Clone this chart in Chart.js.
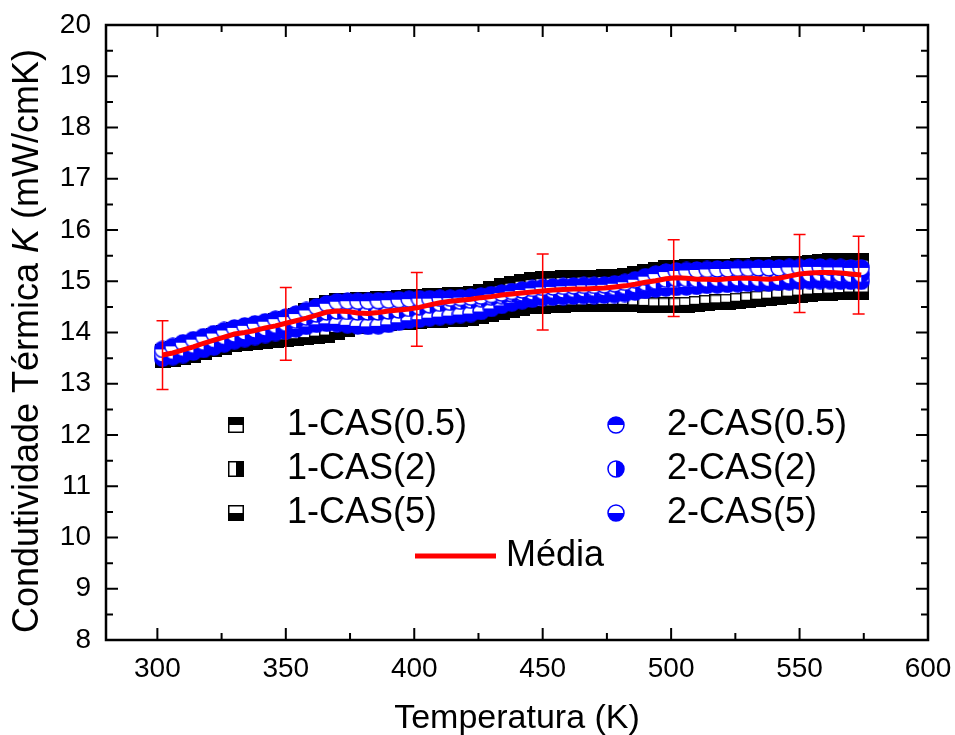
<!DOCTYPE html>
<html>
<head>
<meta charset="utf-8">
<script src="https://cdn.jsdelivr.net/npm/chart.js@4.4.1/dist/chart.umd.min.js"></script>
<style>
  body { margin: 0; background: #fff; }
  #wrap { width: 955px; height: 735px; }
</style>
</head>
<body>
<div id="wrap"><canvas id="kChart" width="955" height="735"></canvas></div>
<script>
// Temperature (K) for every sample
const temps = [
  302, 306, 310, 314, 318, 322, 326, 330, 334, 338,
  342, 346, 350, 354, 358, 362, 366, 370, 374, 378,
  382, 386, 390, 394, 398, 402, 406, 410, 414, 418,
  422, 426, 430, 434, 438, 442, 446, 450, 454, 458,
  462, 466, 470, 474, 478, 482, 486, 490, 494, 498,
  502, 506, 510, 514, 518, 522, 526, 530, 534, 538,
  542, 546, 550, 554, 558, 562, 566, 570, 574
];

// thermal conductivity K (mW/cmK), one list per sample
const cas1_05 = [
  13.62, 13.68, 13.74, 13.80, 13.86, 13.93, 13.99, 14.05, 14.09, 14.13,
  14.17, 14.22, 14.26, 14.33, 14.42, 14.51, 14.58, 14.61, 14.62, 14.63,
  14.64, 14.65, 14.66, 14.67, 14.69, 14.70, 14.71, 14.72, 14.73, 14.74,
  14.76, 14.80, 14.85, 14.90, 14.95, 14.99, 15.02, 15.04, 15.05, 15.06,
  15.06, 15.07, 15.07, 15.08, 15.08, 15.10, 15.14, 15.18, 15.22, 15.25,
  15.26, 15.27, 15.27, 15.28, 15.28, 15.28, 15.29, 15.30, 15.31, 15.32,
  15.33, 15.34, 15.34, 15.36, 15.38, 15.39, 15.40, 15.40, 15.40
];
const cas1_2 = [
  13.55, 13.61, 13.67, 13.73, 13.79, 13.84, 13.90, 13.95, 13.98, 14.01,
  14.04, 14.07, 14.10, 14.16, 14.23, 14.31, 14.38, 14.41, 14.41, 14.40,
  14.40, 14.40, 14.41, 14.43, 14.45, 14.47, 14.51, 14.55, 14.58, 14.60,
  14.61, 14.64, 14.68, 14.71, 14.74, 14.77, 14.79, 14.80, 14.82, 14.83,
  14.84, 14.85, 14.86, 14.87, 14.88, 14.90, 14.93, 14.96, 14.99, 15.01,
  15.02, 15.02, 15.02, 15.02, 15.02, 15.02, 15.03, 15.03, 15.03, 15.03,
  15.05, 15.08, 15.10, 15.11, 15.11, 15.11, 15.11, 15.10, 15.10
];
const cas1_5 = [
  13.46, 13.49, 13.53, 13.57, 13.62, 13.67, 13.72, 13.77, 13.80, 13.82,
  13.84, 13.86, 13.87, 13.89, 13.91, 13.94, 13.96, 14.01, 14.07, 14.12,
  14.15, 14.17, 14.19, 14.20, 14.21, 14.22, 14.24, 14.25, 14.26, 14.27,
  14.29, 14.32, 14.36, 14.40, 14.44, 14.48, 14.51, 14.52, 14.53, 14.54,
  14.55, 14.55, 14.56, 14.56, 14.56, 14.56, 14.55, 14.54, 14.53, 14.53,
  14.53, 14.54, 14.56, 14.58, 14.59, 14.60, 14.62, 14.64, 14.66, 14.68,
  14.70, 14.72, 14.74, 14.76, 14.77, 14.78, 14.79, 14.80, 14.80
];
const cas2_05 = [
  13.67, 13.73, 13.80, 13.86, 13.92, 13.98, 14.04, 14.09, 14.13, 14.17,
  14.21, 14.26, 14.30, 14.36, 14.43, 14.50, 14.56, 14.60, 14.61, 14.61,
  14.61, 14.62, 14.63, 14.64, 14.65, 14.66, 14.66, 14.67, 14.67, 14.68,
  14.69, 14.71, 14.74, 14.77, 14.80, 14.83, 14.86, 14.88, 14.89, 14.90,
  14.91, 14.92, 14.92, 14.93, 14.95, 14.98, 15.03, 15.09, 15.14, 15.18,
  15.20, 15.21, 15.22, 15.23, 15.24, 15.24, 15.25, 15.25, 15.26, 15.26,
  15.26, 15.27, 15.27, 15.28, 15.28, 15.27, 15.27, 15.26, 15.26
];
const cas2_2 = [
  13.58, 13.63, 13.69, 13.75, 13.81, 13.86, 13.92, 13.97, 14.01, 14.05,
  14.09, 14.14, 14.18, 14.24, 14.30, 14.36, 14.40, 14.42, 14.41, 14.40,
  14.40, 14.40, 14.42, 14.44, 14.47, 14.50, 14.54, 14.57, 14.59, 14.61,
  14.63, 14.66, 14.69, 14.72, 14.75, 14.77, 14.79, 14.80, 14.82, 14.83,
  14.84, 14.85, 14.86, 14.87, 14.88, 14.90, 14.93, 14.97, 15.00, 15.04,
  15.05, 15.05, 15.04, 15.04, 15.05, 15.05, 15.06, 15.06, 15.05, 15.05,
  15.07, 15.10, 15.12, 15.14, 15.15, 15.15, 15.14, 15.13, 15.13
];
const cas2_5 = [
  13.50, 13.53, 13.57, 13.62, 13.67, 13.72, 13.78, 13.84, 13.88, 13.92,
  13.96, 14.00, 14.03, 14.07, 14.12, 14.16, 14.18, 14.17, 14.15, 14.13,
  14.12, 14.13, 14.16, 14.20, 14.24, 14.26, 14.29, 14.31, 14.33, 14.35,
  14.37, 14.41, 14.47, 14.53, 14.58, 14.62, 14.65, 14.68, 14.69, 14.70,
  14.71, 14.72, 14.72, 14.73, 14.74, 14.76, 14.79, 14.82, 14.85, 14.87,
  14.88, 14.89, 14.90, 14.92, 14.93, 14.94, 14.95, 14.96, 14.96, 14.97,
  14.98, 14.99, 15.00, 15.01, 15.01, 15.01, 15.00, 15.00, 15.00
];
const meanK = [
  13.56, 13.60, 13.66, 13.72, 13.79, 13.85, 13.91, 13.97, 14.00, 14.04,
  14.09, 14.13, 14.18, 14.23, 14.28, 14.34, 14.40, 14.42, 14.41, 14.38,
  14.37, 14.39, 14.42, 14.44, 14.46, 14.49, 14.54, 14.58, 14.61, 14.63,
  14.65, 14.68, 14.70, 14.73, 14.75, 14.77, 14.79, 14.81, 14.83, 14.84,
  14.85, 14.85, 14.86, 14.87, 14.89, 14.91, 14.94, 14.98, 15.01, 15.05,
  15.07, 15.06, 15.04, 15.04, 15.03, 15.05, 15.06, 15.06, 15.05, 15.04,
  15.06, 15.10, 15.14, 15.16, 15.17, 15.17, 15.16, 15.14, 15.12
];

// error bars on the mean
const errT = [302, 350, 401, 450, 501, 550, 573];
const errMean = [13.56, 14.17, 14.45, 14.79, 15.06, 15.15, 15.12];
const errSize = [0.67, 0.71, 0.72, 0.74, 0.75, 0.76, 0.76];

const xTicks = [300, 350, 400, 450, 500, 550, 600];
const yTicks = [8, 9, 10, 11, 12, 13, 14, 15, 16, 17, 18, 19, 20];

const FONT = '"Liberation Sans", Arial, sans-serif';

// half filled markers
function squareMarker(half) {
  const n = 16;
  const c = document.createElement('canvas');
  c.width = n; c.height = n;
  const g = c.getContext('2d');
  g.fillStyle = '#fff';
  g.fillRect(0, 0, n, n);
  g.fillStyle = '#000';
  if (half === 'top') g.fillRect(0, 0, n, n / 2);
  if (half === 'right') g.fillRect(n / 2, 0, n / 2, n);
  if (half === 'bottom') g.fillRect(0, n / 2, n, n / 2);
  g.strokeStyle = '#000';
  g.lineWidth = 1.5;
  g.strokeRect(0.75, 0.75, n - 1.5, n - 1.5);
  return c;
}
function circleMarker(half) {
  const n = 18, m = n / 2, r = m - 1;
  const c = document.createElement('canvas');
  c.width = n; c.height = n;
  const g = c.getContext('2d');
  g.beginPath(); g.arc(m, m, r, 0, Math.PI * 2);
  g.fillStyle = '#fff'; g.fill();
  g.beginPath();
  if (half === 'top') g.arc(m, m, r, Math.PI, 0);
  if (half === 'right') g.arc(m, m, r, -Math.PI / 2, Math.PI / 2);
  if (half === 'bottom') g.arc(m, m, r, 0, Math.PI);
  g.closePath();
  g.fillStyle = '#0000ff'; g.fill();
  g.beginPath(); g.arc(m, m, r, 0, Math.PI * 2);
  g.strokeStyle = '#0000ff'; g.lineWidth = 1.5; g.stroke();
  return c;
}

const series = [
  { label: '1-CAS(0.5)', vals: cas1_05, marker: squareMarker('top'), order: 3 },
  { label: '1-CAS(2)', vals: cas1_2, marker: squareMarker('right'), order: 3 },
  { label: '1-CAS(5)', vals: cas1_5, marker: squareMarker('bottom'), order: 3 },
  { label: '2-CAS(0.5)', vals: cas2_05, marker: circleMarker('top'), order: 2 },
  { label: '2-CAS(2)', vals: cas2_2, marker: circleMarker('right'), order: 2 },
  { label: '2-CAS(5)', vals: cas2_5, marker: circleMarker('bottom'), order: 2 }
];

function pts(vals) {
  return temps.map((t, i) => ({ x: t, y: vals[i] }));
}

const datasets = series.map(s => ({
  label: s.label,
  data: pts(s.vals),
  showLine: false,
  pointStyle: s.marker,
  pointRadius: 9,
  order: s.order
}));
datasets.push({
  label: 'Média',
  data: pts(meanK),
  showLine: true,
  borderColor: '#ff0000',
  borderWidth: 5,
  pointRadius: 0,
  tension: 0,
  order: 1
});

// error bars drawn over the mean line
const errorBars = {
  id: 'errorBars',
  afterDatasetsDraw(chart) {
    const { ctx, scales: { x, y } } = chart;
    ctx.save();
    ctx.strokeStyle = '#ff0000';
    ctx.lineWidth = 1.5;
    ctx.beginPath();
    errT.forEach((t, i) => {
      const px = x.getPixelForValue(t);
      const top = y.getPixelForValue(errMean[i] + errSize[i]);
      const bot = y.getPixelForValue(errMean[i] - errSize[i]);
      ctx.moveTo(px, top); ctx.lineTo(px, bot);
      ctx.moveTo(px - 6, top); ctx.lineTo(px + 6, top);
      ctx.moveTo(px - 6, bot); ctx.lineTo(px + 6, bot);
    });
    ctx.stroke();
    ctx.restore();
  }
};

// box with inward ticks on all four sides, legend and axis titles
const frame = {
  id: 'frame',
  afterDraw(chart) {
    const { ctx, chartArea: a, scales: { x, y } } = chart;
    ctx.save();
    ctx.strokeStyle = '#000';
    ctx.lineWidth = 2;
    ctx.beginPath();
    const xMinor = xTicks.slice(0, -1).map((v, i) => (v + xTicks[i + 1]) / 2);
    const yMinor = yTicks.slice(0, -1).map((v, i) => (v + yTicks[i + 1]) / 2);
    const xMarks = xTicks.map(v => [v, 12]).concat(xMinor.map(v => [v, 7]));
    const yMarks = yTicks.map(v => [v, 12]).concat(yMinor.map(v => [v, 7]));
    xMarks.forEach(([v, len]) => {
      const px = x.getPixelForValue(v);
      ctx.moveTo(px, a.bottom); ctx.lineTo(px, a.bottom - len);
      ctx.moveTo(px, a.top); ctx.lineTo(px, a.top + len);
    });
    yMarks.forEach(([v, len]) => {
      const py = y.getPixelForValue(v);
      ctx.moveTo(a.left, py); ctx.lineTo(a.left + len, py);
      ctx.moveTo(a.right, py); ctx.lineTo(a.right - len, py);
    });
    ctx.stroke();
    ctx.lineWidth = 2.5;
    ctx.strokeRect(a.left, a.top, a.right - a.left, a.bottom - a.top);

    // legend
    ctx.fillStyle = '#000';
    ctx.font = '36px ' + FONT;
    ctx.textBaseline = 'middle';
    ctx.textAlign = 'left';
    const rows = [425, 469, 513];
    series.forEach((s, i) => {
      const col = i < 3 ? 0 : 1;
      const mx = col === 0 ? 236 : 616;
      const tx = col === 0 ? 287 : 667;
      const ry = rows[i % 3];
      ctx.drawImage(s.marker, mx - s.marker.width / 2, ry - s.marker.height / 2);
      ctx.fillText(s.label, tx, ry);
    });
    ctx.strokeStyle = '#ff0000';
    ctx.lineWidth = 5;
    ctx.beginPath();
    ctx.moveTo(415, 556); ctx.lineTo(496, 556);
    ctx.stroke();
    ctx.fillText('Média', 506, 556);

    // x title
    ctx.font = '34px ' + FONT;
    ctx.textBaseline = 'alphabetic';
    ctx.textAlign = 'center';
    ctx.fillText('Temperatura (K)', (a.left + a.right) / 2, 728);

    // y title with italic K
    const parts = [
      ['Condutividade Térmica ', '36px ' + FONT],
      ['K', 'italic 36px ' + FONT],
      [' (mW/cmK)', '36px ' + FONT]
    ];
    let total = 0;
    parts.forEach(p => { ctx.font = p[1]; total += ctx.measureText(p[0]).width; });
    ctx.translate(38, 341);
    ctx.rotate(-Math.PI / 2);
    ctx.textAlign = 'left';
    let cx = -total / 2;
    parts.forEach(p => {
      ctx.font = p[1];
      ctx.fillText(p[0], cx, 0);
      cx += ctx.measureText(p[0]).width;
    });
    ctx.restore();
  }
};

new Chart(document.getElementById('kChart'), {
  type: 'line',
  data: { datasets },
  options: {
    responsive: false,
    animation: false,
    layout: { padding: { left: 0, right: 27, top: 25, bottom: 0 } },
    plugins: {
      legend: { display: false },
      tooltip: { enabled: false }
    },
    scales: {
      x: {
        type: 'linear',
        min: 280,
        max: 600,
        afterBuildTicks: s => { s.ticks = xTicks.map(v => ({ value: v })); },
        afterFit: s => { s.height = 95; s.paddingRight = 0; s.paddingLeft = 0; },
        grid: { display: false, drawTicks: false },
        border: { display: false },
        ticks: { color: '#000', padding: 12, maxRotation: 0, font: { size: 28, family: FONT } }
      },
      y: {
        type: 'linear',
        min: 8,
        max: 20,
        afterBuildTicks: s => { s.ticks = yTicks.map(v => ({ value: v })); },
        afterFit: s => { s.width = 106; s.paddingTop = 0; s.paddingBottom = 0; },
        grid: { display: false, drawTicks: false },
        border: { display: false },
        ticks: { color: '#000', padding: 15, font: { size: 28, family: FONT } }
      }
    }
  },
  plugins: [errorBars, frame]
});
</script>
</body>
</html>
